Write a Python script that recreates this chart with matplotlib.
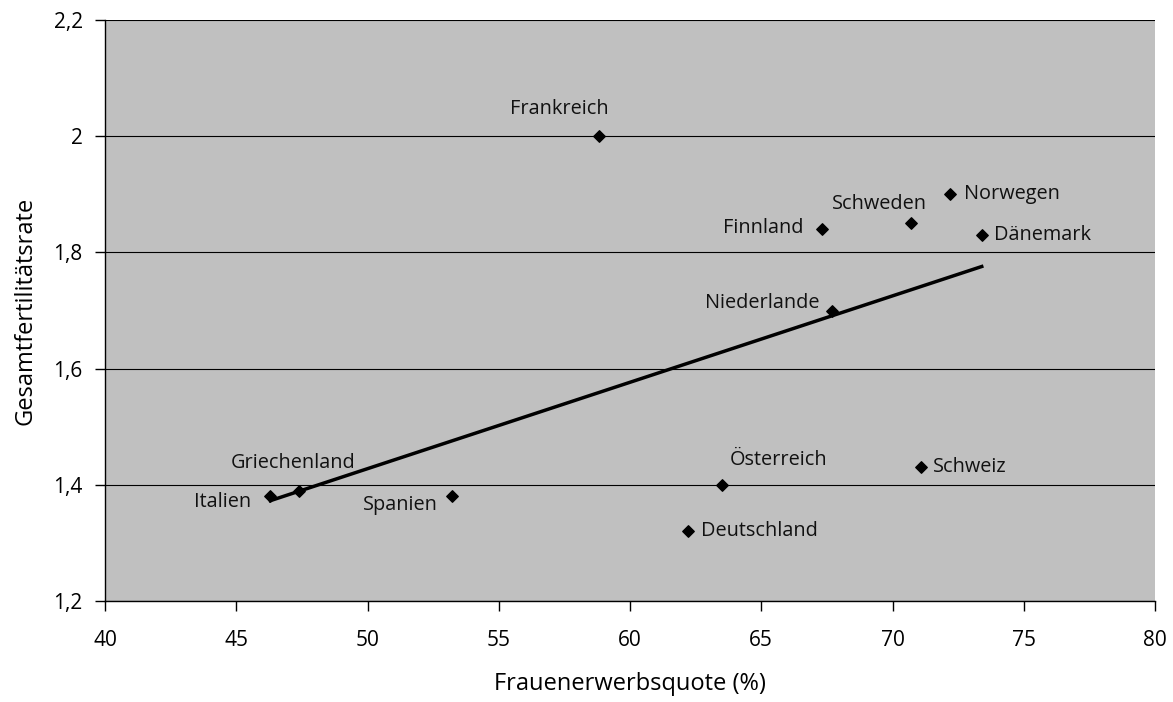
import matplotlib
matplotlib.use("Agg")
import matplotlib.pyplot as plt
import numpy as np

countries = ["Italien", "Griechenland", "Spanien", "Frankreich", "Deutschland",
             "Österreich", "Finnland", "Niederlande", "Schweden", "Schweiz",
             "Norwegen", "Dänemark"]
erwerbsquote = [46.3, 47.4, 53.2, 58.8, 62.2, 63.5, 67.3, 67.7, 70.7, 71.1, 72.2, 73.4]
fertilitaet = [1.38, 1.39, 1.38, 2.00, 1.32, 1.40, 1.84, 1.70, 1.85, 1.43, 1.90, 1.83]

x_ticks = [40, 45, 50, 55, 60, 65, 70, 75, 80]
y_ticks = [1.2, 1.4, 1.6, 1.8, 2.0, 2.2]
y_tick_labels = ["1,2", "1,4", "1,6", "1,8", "2", "2,2"]

# label offsets (pixels) and alignment
label_pos = {
    "Italien": (-19, -6, "right"),
    "Griechenland": (-6, 28, "center"),
    "Spanien": (-14, -9, "right"),
    "Frankreich": (-39, 27, "center"),
    "Deutschland": (13, 0, "left"),
    "Österreich": (8, 25, "left"),
    "Finnland": (-18, 1, "right"),
    "Niederlande": (-13, 7, "right"),
    "Schweden": (-31, 19, "center"),
    "Schweiz": (12, 0, "left"),
    "Norwegen": (14, 0, "left"),
    "Dänemark": (12, 0, "left"),
}

plt.rcParams['font.family'] = ['Open Sans', 'DejaVu Sans']

W, H = 1173, 702
fig = plt.figure(figsize=(W / 100, H / 100), dpi=100)
ax = fig.add_axes([105 / W, 1 - 601 / H, (1155 - 105) / W, (601 - 20) / H])
ax.set_facecolor("#c0c0c0")

ax.set_xlim(40, 80)
ax.set_ylim(1.2, 2.2)
ax.set_xticks(x_ticks)
ax.set_yticks(y_ticks)
ax.set_yticklabels(y_tick_labels)
ax.yaxis.grid(True, color="black", linewidth=0.8)
ax.set_axisbelow(True)
for s in ["top", "right"]:
    ax.spines[s].set_visible(False)
for s in ["left", "bottom"]:
    ax.spines[s].set_color("black")
    ax.spines[s].set_linewidth(1.0)
ax.tick_params(direction="out", length=7, width=1, labelsize=15, colors="black")
ax.tick_params(axis="x", pad=14)
ax.tick_params(axis="y", pad=9)

ax.scatter(erwerbsquote, fertilitaet, marker="D", s=34, color="black", zorder=3)

# linear trend line
coef = np.polyfit(erwerbsquote, fertilitaet, 1)
xs = np.array([min(erwerbsquote), max(erwerbsquote)])
ax.plot(xs, np.polyval(coef, xs), color="black", linewidth=2.5, zorder=2)

for c, xv, yv in zip(countries, erwerbsquote, fertilitaet):
    dx, dy, ha = label_pos[c]
    ax.annotate(c, (xv, yv), xytext=(dx, dy), textcoords="offset pixels",
                ha=ha, va="center", fontsize=14.3, color="#111111")

ax.set_xlabel("Frauenerwerbsquote (%)", fontsize=17)
ax.set_ylabel("Gesamtfertilitätsrate", fontsize=17)
ax.xaxis.set_label_coords(0.5, (601 - 672) / 581)
ax.yaxis.set_label_coords((38 - 105) / 1050, 0.5)

fig.savefig("out.png", dpi=100)
